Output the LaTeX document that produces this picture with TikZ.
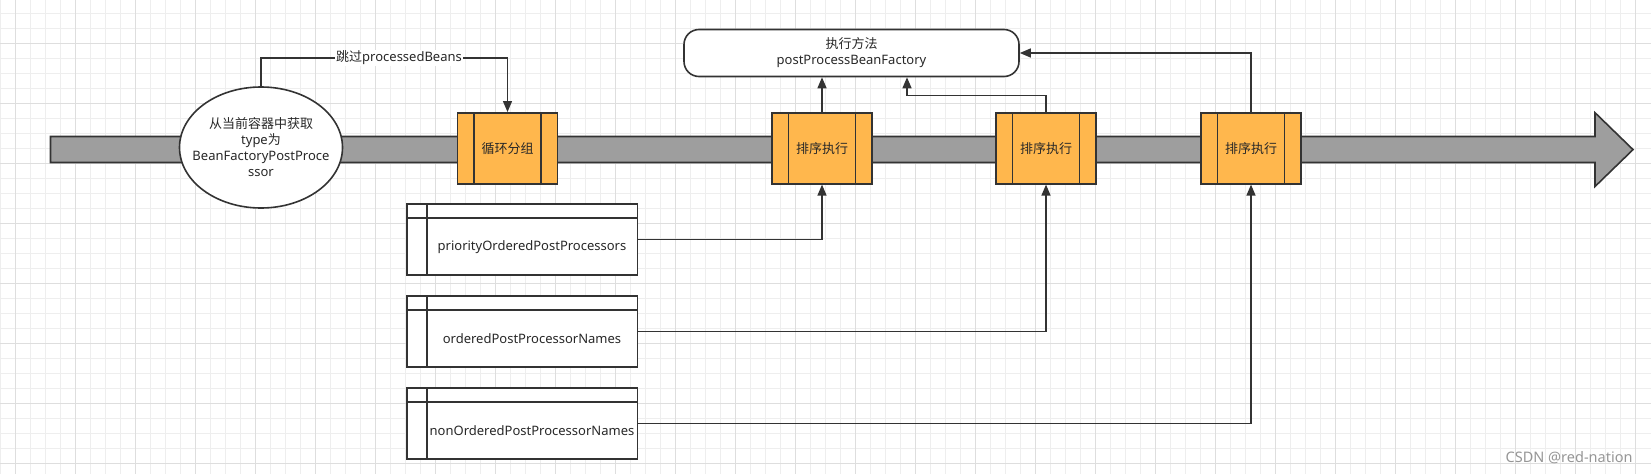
\documentclass[tikz,border=0pt]{standalone}
\usepackage{fontspec}
\setmainfont{Noto Sans}
\newfontfamily\cjk{Noto Sans CJK SC}
\usetikzlibrary{arrows.meta,shapes.geometric}
\definecolor{strk}{RGB}{51,51,51}
\definecolor{orng}{RGB}{255,183,77}
\definecolor{bandc}{RGB}{158,158,158}
\definecolor{gridminor}{RGB}{238,238,238}
\definecolor{gridmajor}{RGB}{222,222,222}
\definecolor{txt}{RGB}{40,40,40}
\definecolor{wm}{RGB}{150,150,150}
\begin{document}
\begin{tikzpicture}[x=1pt,y=-1pt,
  every node/.style={font=\fontsize{13}{16}\selectfont, text=txt},
  shapeline/.style={draw=strk, line width=1.6pt},
  procbox/.style={shapeline, fill=orng, minimum width=100pt, minimum height=71pt, inner sep=0pt,
    path picture={\draw[strk,line width=1.6pt]
      ([xshift=16.5pt]path picture bounding box.north west) -- ([xshift=16.5pt]path picture bounding box.south west)
      ([xshift=-16.5pt]path picture bounding box.north east) -- ([xshift=-16.5pt]path picture bounding box.south east);}},
  tablebox/.style={shapeline, fill=white, minimum width=230.6pt, minimum height=71pt, inner sep=0pt,
    path picture={\draw[strk,line width=1.6pt]
      ([yshift=-14pt]path picture bounding box.north west) -- ([yshift=-14pt]path picture bounding box.north east)
      ([xshift=20pt]path picture bounding box.north west) -- ([xshift=20pt]path picture bounding box.south west);}},
  tabtext/.style={xshift=10pt, yshift=-7.5pt},
  conn/.style={draw=strk, line width=1.4pt, -{Triangle[length=11pt,width=9pt]}}
]
\useasboundingbox (0,0) rectangle (1651,474);
\fill[white] (0,0) rectangle (1651,474);
% grid
\foreach \i in {0,...,109} \draw[gridminor, line width=0.8pt] (0.7+15*\i,0) -- (0.7+15*\i,474);
\foreach \i in {0,...,31} \draw[gridminor, line width=0.8pt] (0,13.3+15*\i) -- (1651,13.3+15*\i);
\foreach \i in {0,...,27} \draw[gridmajor, line width=0.8pt] (15.7+60*\i,0) -- (15.7+60*\i,474);
\foreach \i in {0,...,7} \draw[gridmajor, line width=0.8pt] (0,43.3+60*\i) -- (1651,43.3+60*\i);

% big gray arrow band
\draw[shapeline, fill=bandc, line join=miter] (50.5,136.5) -- (1595,136.5) -- (1595,112.7) -- (1633,149.6) -- (1595,186.5) -- (1595,162.5) -- (50.5,162.5) -- cycle;

% nodes
\node[ellipse, shapeline, fill=white, minimum width=163pt, minimum height=121pt, inner sep=0pt,
  label={[align=center]center:{\cjk 从当前容器中获取}\\type{\cjk 为}\\BeanFactoryPostProce\\ssor}] (src) at (261,147.5) {};
\node[procbox] (grp) at (507.5,148.3) {\cjk 循环分组};
\node[procbox] (s1) at (822,148.3) {\cjk 排序执行};
\node[procbox] (s2) at (1046,148.3) {\cjk 排序执行};
\node[procbox] (s3) at (1251,148.3) {\cjk 排序执行};
\node[shapeline, rounded corners=15pt, fill=white, minimum width=335pt, minimum height=47pt, inner sep=0pt, align=center] (exec) at (851.5,53)
  {{\cjk 执行方法}\\postProcessBeanFactory};
\node[tablebox, label={[tabtext]center:priorityOrderedPostProcessors}] (t1) at (522,239.5) {};
\node[tablebox, label={[tabtext]center:orderedPostProcessorNames}] (t2) at (522,331.3) {};
\node[tablebox, label={[tabtext]center:nonOrderedPostProcessorNames}] (t3) at (522,423.2) {};

% connectors
\coordinate (lane) at (0,58);
\coordinate (lane2) at (907,95.5);
\draw[conn] (src.north) -- (src.north |- lane) -- node[pos=0.56, fill=white, inner sep=1pt] {{\cjk 跳过}processedBeans} (grp.north |- lane) -- (grp.north);
\draw[conn] (s1.north) -- (s1.north |- exec.south);
\draw[conn] (s2.north) |- (lane2) -- (lane2 |- exec.south);
\draw[conn] (s3.north) |- (exec.east);
\draw[conn] (t1.east) -| (s1.south);
\draw[conn] (t2.east) -| (s2.south);
\draw[conn] (t3.east) -| (s3.south);

% watermark
\node[anchor=base east, font=\fontsize{14.5}{16}\selectfont, text=wm] (wmk) at (1636,462) {CSDN @red-nation};
\end{tikzpicture}
\end{document}
